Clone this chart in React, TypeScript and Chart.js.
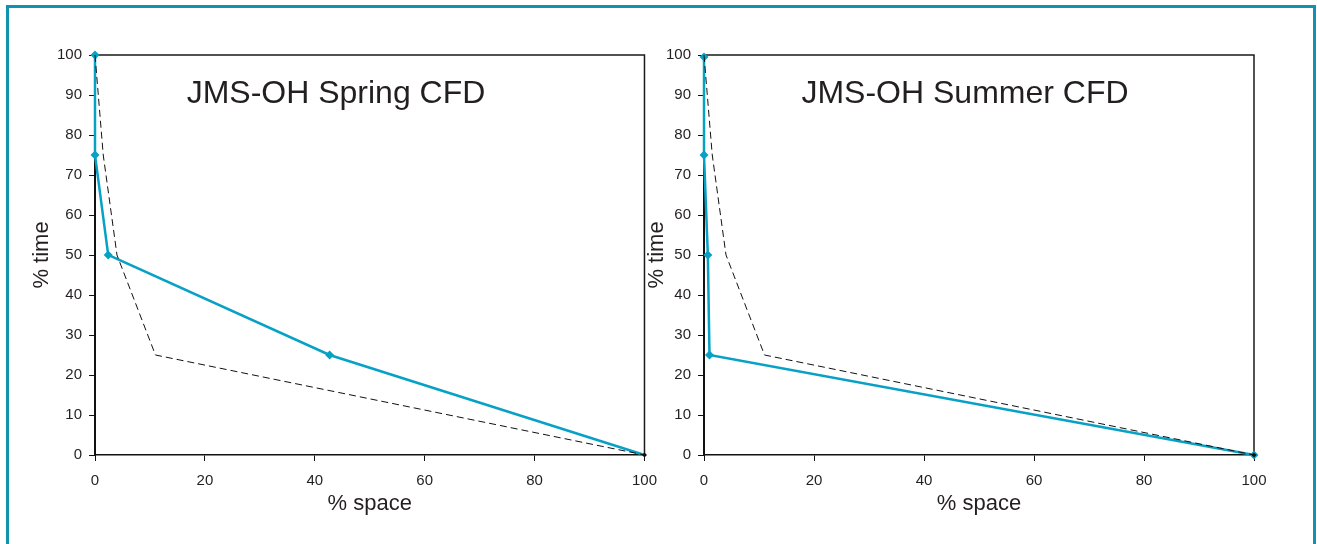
import React, { useEffect, useRef } from "react";
import { Chart, registerables } from "chart.js";

Chart.register(...registerables);

// ---- data ----
const springSpace = [0, 0, 2.4, 42.7, 100];
const springTime = [100, 75, 50, 25, 0];
const summerSpace = [0, 0, 0.7, 1.0, 100];
const summerTime = [99.5, 75, 50, 25, 0];
const refSpace = [0, 1.5, 4, 11, 100];
const refTime = [100, 75, 50, 25, 0];

const xTicks = [0, 20, 40, 60, 80, 100];
const yTicks = [0, 10, 20, 30, 40, 50, 60, 70, 80, 90, 100];

const titles = ["JMS-OH Spring CFD", "JMS-OH Summer CFD"];
const xLabel = "% space";
const yLabel = "% time";

const BLUE = "#08A1C6";
const TEXT = "#231f20";
const FONT = '"Liberation Sans", Arial, Helvetica, sans-serif';

function pts(xs: number[], ys: number[]) {
  return xs.map((x, i) => ({ x, y: ys[i] }));
}

type Cfg = {
  left: number;
  width: number;
  padLeft: number;
  padRight: number;
  yAxisWidth: number;
  title: string;
  titleX: number;
  blueX: number[];
  blueY: number[];
  blueLastRadius: number;
};

function CFDChart({ cfg }: { cfg: Cfg }) {
  const ref = useRef<HTMLCanvasElement | null>(null);
  useEffect(() => {
    if (!ref.current) return;
    const boxPlugin = {
      id: "box" + cfg.title,
      beforeDatasetsDraw(chart: any) {
        const { ctx, chartArea } = chart;
        ctx.save();
        ctx.strokeStyle = "#1a1a1a";
        ctx.lineWidth = 1.5;
        ctx.beginPath();
        ctx.moveTo(chartArea.left, chartArea.top);
        ctx.lineTo(chartArea.right, chartArea.top);
        ctx.lineTo(chartArea.right, chartArea.bottom);
        ctx.stroke();
        ctx.restore();
      },
      afterDraw(chart: any) {
        const { ctx } = chart;
        ctx.save();
        ctx.fillStyle = TEXT;
        ctx.font = `32px ${FONT}`;
        ctx.textAlign = "center";
        ctx.textBaseline = "alphabetic";
        ctx.fillText(cfg.title, cfg.titleX, 103);
        ctx.restore();
      },
    };
    const n = refSpace.length;
    const chart = new Chart(ref.current, {
      type: "scatter",
      data: {
        datasets: [
          {
            data: pts(cfg.blueX, cfg.blueY),
            showLine: true,
            borderColor: BLUE,
            backgroundColor: BLUE,
            borderWidth: 2.5,
            pointStyle: "rectRot",
            pointRadius: cfg.blueX.map((_, i) => (i === cfg.blueX.length - 1 ? cfg.blueLastRadius : 4.5)),
            pointBorderWidth: 0,
            clip: false,
            order: 2,
          } as any,
          {
            data: pts(refSpace, refTime),
            showLine: true,
            borderColor: "#111",
            backgroundColor: "#111",
            borderWidth: 1,
            borderDash: [7, 4],
            pointStyle: "rectRot",
            pointRadius: refSpace.map((_, i) => (i === n - 1 ? 2.5 : 0)),
            pointBorderWidth: 0,
            clip: false,
            order: 1,
          } as any,
        ],
      },
      options: {
        animation: false,
        responsive: false,
        devicePixelRatio: 1,
        layout: {
          padding: { left: cfg.padLeft, right: cfg.padRight, top: 55, bottom: 20 },
        },
        plugins: {
          legend: { display: false },
          tooltip: { enabled: false },
          title: { display: false },
        },
        scales: {
          x: {
            type: "linear",
            min: 0,
            max: 100,
            afterBuildTicks: (s: any) => {
              s.ticks = xTicks.map((v) => ({ value: v }));
            },
            afterFit: (s: any) => {
              s.height = 69;
            },
            grid: {
              display: true,
              drawOnChartArea: false,
              drawTicks: true,
              tickLength: 6,
              color: "#111",
              lineWidth: 1,
            },
            border: { display: true, color: "#111", width: 1.5 },
            ticks: {
              color: TEXT,
              font: { size: 15, family: FONT },
              padding: 11,
              maxRotation: 0,
            },
            title: {
              display: true,
              text: xLabel,
              color: TEXT,
              font: { size: 22, family: FONT },
              padding: { top: 0, bottom: 7 },
            },
          },
          y: {
            type: "linear",
            min: 0,
            max: 100,
            afterBuildTicks: (s: any) => {
              s.ticks = yTicks.map((v) => ({ value: v }));
            },
            afterFit: (s: any) => {
              s.width = cfg.yAxisWidth;
            },
            grid: {
              display: true,
              drawOnChartArea: false,
              drawTicks: true,
              tickLength: 6,
              color: "#111",
              lineWidth: 1,
            },
            border: { display: true, color: "#111", width: 2 },
            ticks: {
              color: TEXT,
              font: { size: 15, family: FONT },
              padding: 7,
            },
            title: {
              display: true,
              text: yLabel,
              color: TEXT,
              font: { size: 22, family: FONT },
              padding: { top: 9, bottom: 0 },
            },
          },
        },
      } as any,
      plugins: [boxPlugin],
    });
    return () => chart.destroy();
  }, [cfg]);
  return (
    <canvas
      ref={ref}
      width={cfg.width}
      height={544}
      style={{ position: "absolute", left: cfg.left, top: 0, width: cfg.width, height: 544 }}
    />
  );
}

const leftCfg: Cfg = {
  left: 0,
  width: 668,
  padLeft: 20,
  padRight: 15,
  yAxisWidth: 75,
  title: titles[0],
  titleX: 336,
  blueX: springSpace,
  blueY: springTime,
  blueLastRadius: 0,
};

const rightCfg: Cfg = {
  left: 620,
  width: 660,
  padLeft: 15,
  padRight: 26,
  yAxisWidth: 69,
  title: titles[1],
  titleX: 345,
  blueX: summerSpace,
  blueY: summerTime,
  blueLastRadius: 4.5,
};

export default function App() {
  return (
    <div
      style={{
        position: "fixed",
        left: 0,
        top: 0,
        width: 1317,
        height: 544,
        background: "#fff",
        overflow: "hidden",
      }}
    >
      <div
        style={{
          position: "absolute",
          left: 6,
          top: 5,
          width: 1310,
          height: 600,
          boxSizing: "border-box",
          border: "3px solid #1192AE",
        }}
      />
      <CFDChart cfg={leftCfg} />
      <CFDChart cfg={rightCfg} />
    </div>
  );
}
